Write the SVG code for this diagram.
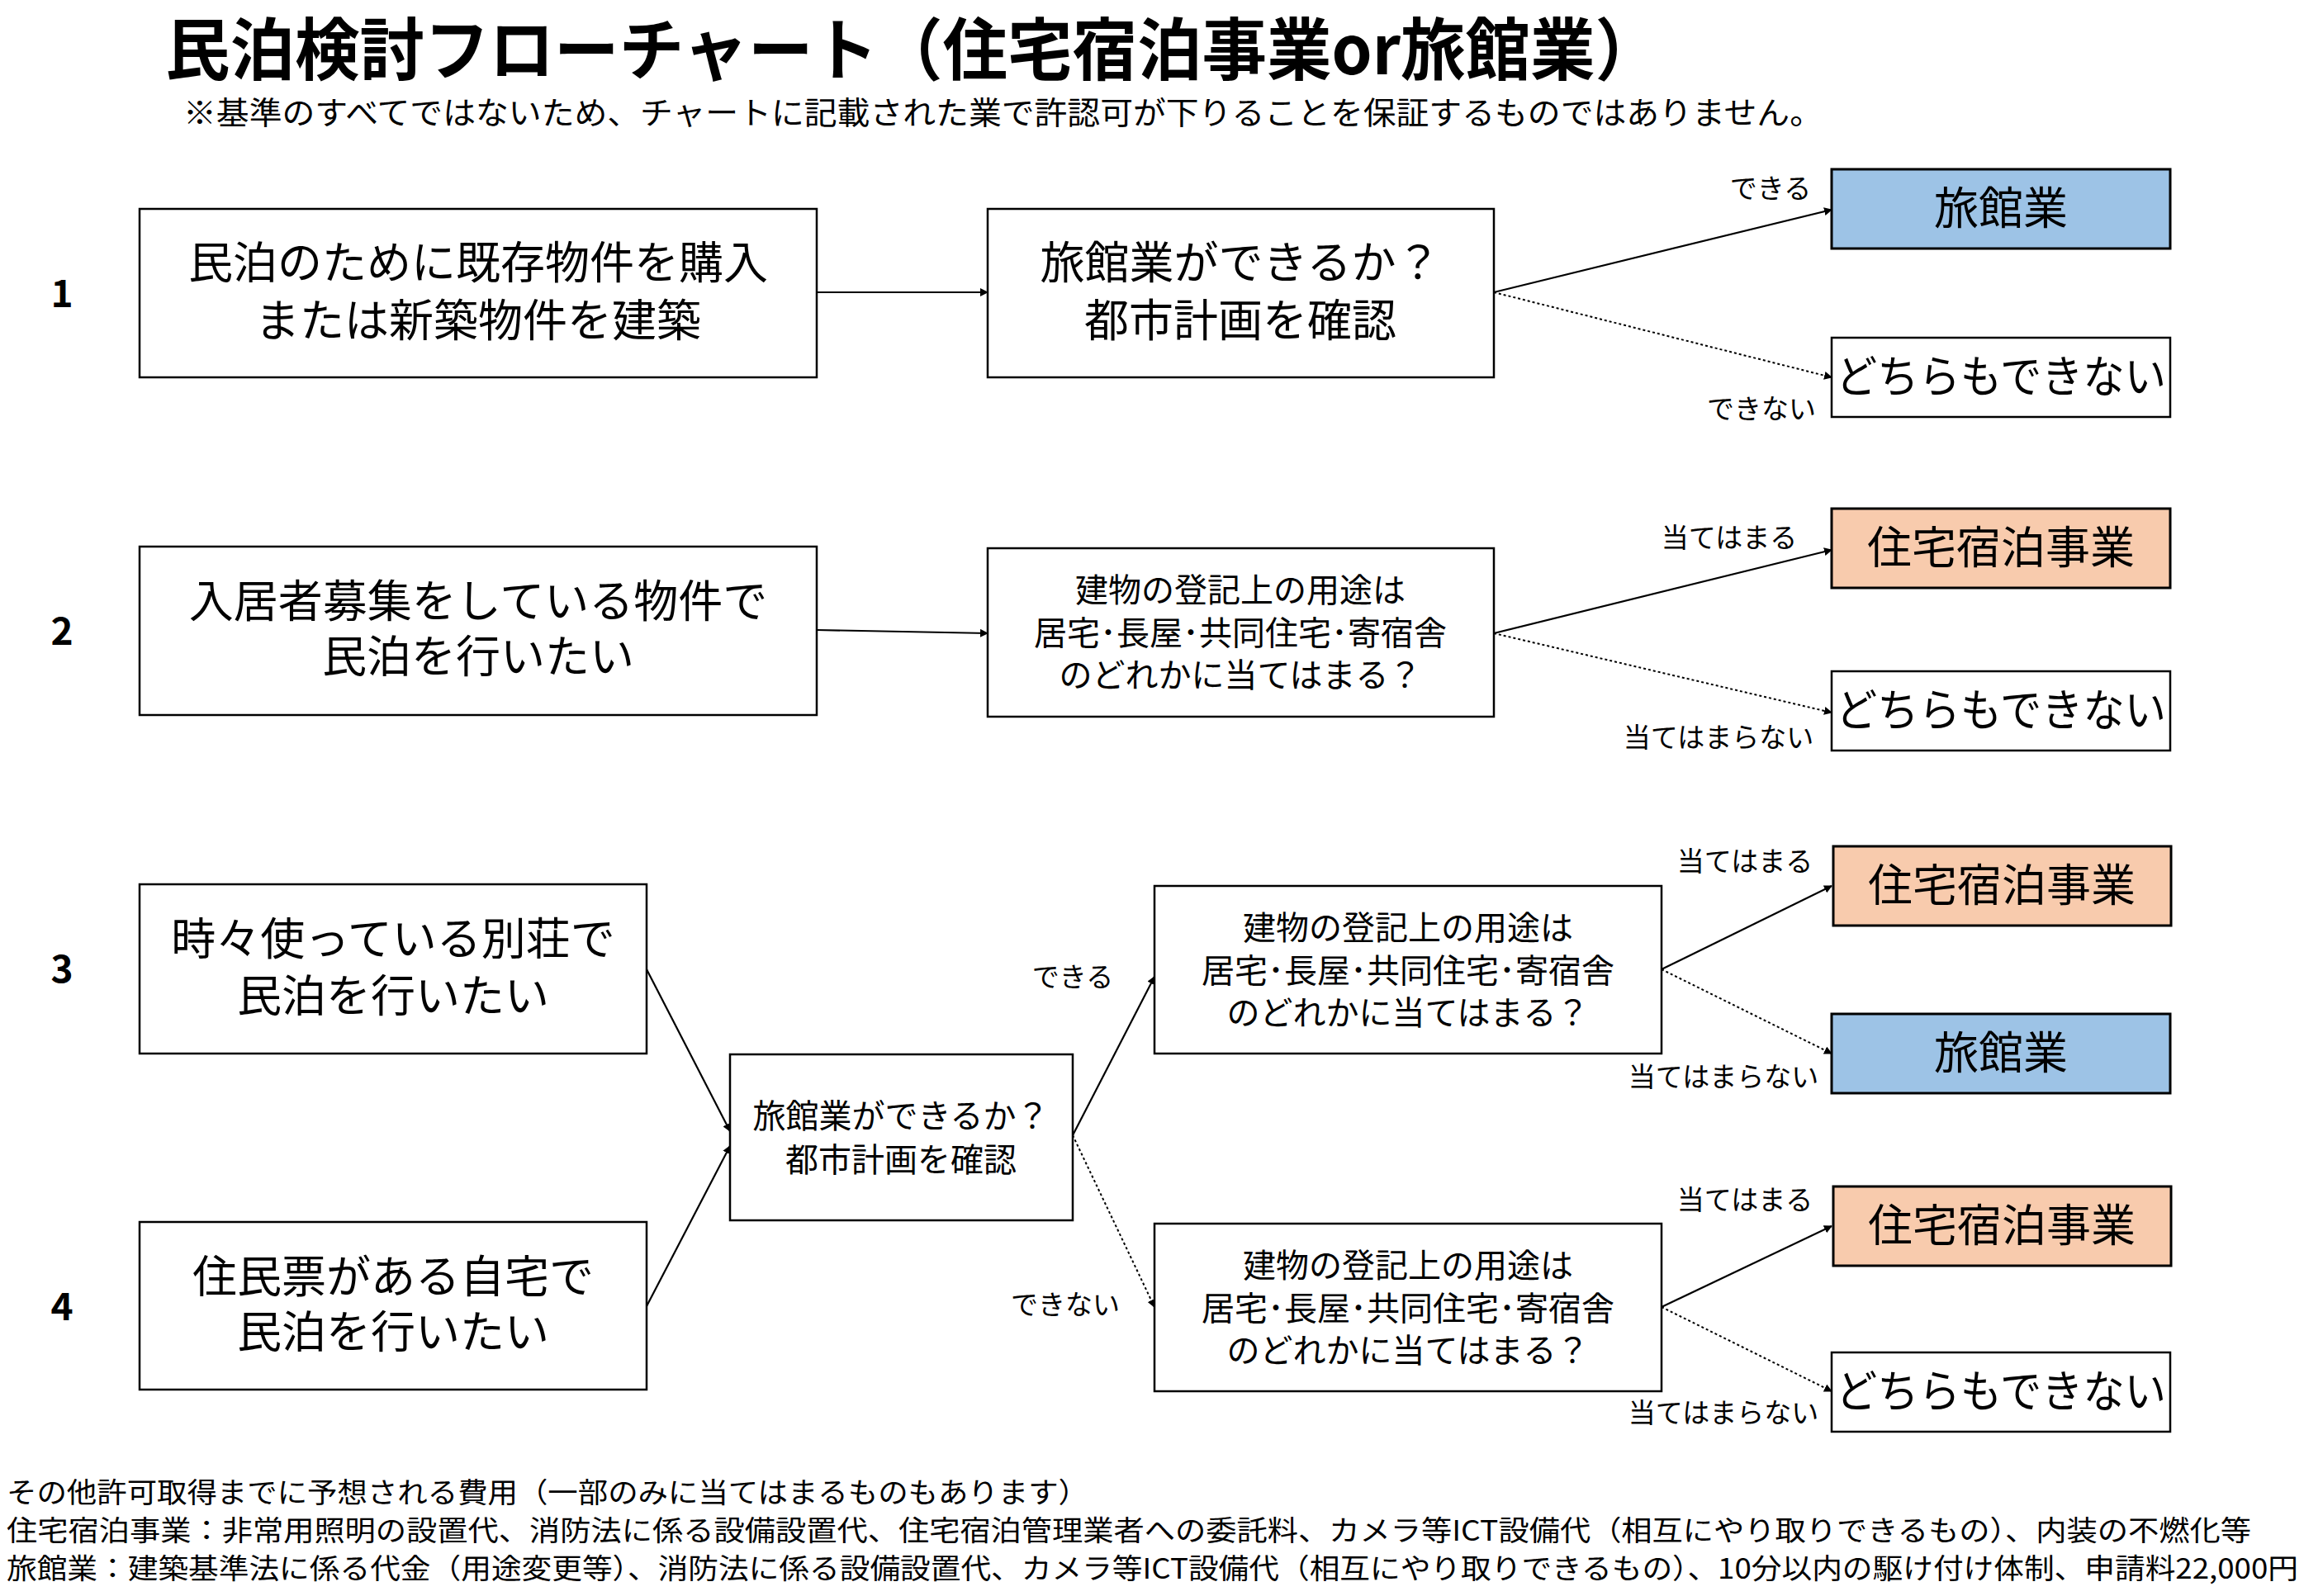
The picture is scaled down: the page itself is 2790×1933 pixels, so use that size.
<svg xmlns="http://www.w3.org/2000/svg" width="2790" height="1933" viewBox="0 0 2790 1933">
<style>
text{font-family:"Noto Sans CJK JP","Noto Sans",sans-serif;fill:#000}
.b{fill:#fff;stroke:#000;stroke-width:2.5}
.blue{fill:#9dc3e6;stroke:#000;stroke-width:3}
.org{fill:#f8cbad;stroke:#000;stroke-width:3}
.t1{font-size:54px;text-anchor:middle}
.t2{font-size:40px;text-anchor:middle}
.r{font-size:54px;text-anchor:middle}
.l{font-size:33px;text-anchor:middle}
.n{font-size:46px;text-anchor:middle;font-weight:bold}
.f{font-size:34px}
.s{stroke:#000;stroke-width:2.2;fill:none;marker-end:url(#a)}
.d{stroke:#000;stroke-width:2;stroke-dasharray:3 3;fill:none;marker-end:url(#a)}
</style>
<defs><marker id="a" markerWidth="10" markerHeight="10" refX="9" refY="5" orient="auto" markerUnits="userSpaceOnUse"><path d="M0,0 L10,5 L0,10 z" fill="#000"/></marker></defs>
<rect width="2790" height="1933" fill="#fff"/>
<text x="200" y="90" textLength="1810" lengthAdjust="spacingAndGlyphs" style="font-size:82px;font-weight:bold">民泊検討フローチャート（住宅宿泊事業or旅館業）</text>
<text x="222" y="150" textLength="1985" lengthAdjust="spacingAndGlyphs" style="font-size:38px">※基準のすべてではないため、チャートに記載された業で許認可が下りることを保証するものではありません。</text>
<text class="n" x="75" y="372">1</text><text class="n" x="75" y="781">2</text><text class="n" x="75" y="1190">3</text><text class="n" x="75" y="1599">4</text>
<g id="connectors">
<line class="s" x1="989" y1="354" x2="1196" y2="354"/>
<line class="s" x1="1809" y1="354" x2="2218" y2="254"/>
<line class="d" x1="1809" y1="354" x2="2218" y2="457"/>
<line class="s" x1="989" y1="763" x2="1196" y2="767"/>
<line class="s" x1="1809" y1="767" x2="2218" y2="666"/>
<line class="d" x1="1809" y1="767" x2="2218" y2="863"/>
<line class="s" x1="783" y1="1174" x2="884" y2="1370"/>
<line class="s" x1="783" y1="1582" x2="884" y2="1388"/>
<line class="s" x1="1299" y1="1375" x2="1398" y2="1183"/>
<line class="d" x1="1299" y1="1375" x2="1398" y2="1583"/>
<line class="s" x1="2012" y1="1174" x2="2218" y2="1073"/>
<line class="d" x1="2012" y1="1174" x2="2218" y2="1276"/>
<line class="s" x1="2012" y1="1583" x2="2218" y2="1485"/>
<line class="d" x1="2012" y1="1583" x2="2218" y2="1685"/>
<text class="l" x="2144" y="240">できる</text><text class="l" x="2133" y="507">できない</text>
<text class="l" x="2094" y="663">当てはまる</text><text class="l" x="2081" y="905">当てはまらない</text>
<text class="l" x="1299" y="1195">できる</text><text class="l" x="1290" y="1592">できない</text>
<text class="l" x="2113" y="1055">当てはまる</text><text class="l" x="2087" y="1316">当てはまらない</text>
<text class="l" x="2113" y="1465">当てはまる</text><text class="l" x="2087" y="1723">当てはまらない</text>
</g>
<g id="n1a"><rect class="b" x="169" y="253" width="820" height="204"/><text class="t1" x="579" y="338">民泊のために既存物件を購入</text><text class="t1" x="579" y="408">または新築物件を建築</text></g>
<g id="n1b"><rect class="b" x="1196" y="253" width="613" height="204"/><text class="t1" x="1502" y="338">旅館業ができるか？</text><text class="t1" x="1502" y="408">都市計画を確認</text></g>
<g id="r1a"><rect class="blue" x="2218" y="205" width="410" height="96"/><text class="r" x="2423" y="272">旅館業</text></g>
<g id="r1b"><rect class="b" x="2218" y="409" width="410" height="96"/><text class="r" x="2423" y="476" textLength="400" lengthAdjust="spacingAndGlyphs">どちらもできない</text></g>
<g id="n2a"><rect class="b" x="169" y="662" width="820" height="204"/><text class="t1" x="579" y="748">入居者募集をしている物件で</text><text class="t1" x="579" y="815">民泊を行いたい</text></g>
<g id="n2b"><rect class="b" x="1196" y="664" width="613" height="204"/><text class="t2" x="1502" y="729">建物の登記上の用途は</text><text class="t2" x="1502" y="781">居宅･長屋･共同住宅･寄宿舎</text><text class="t2" x="1502" y="832">のどれかに当てはまる？</text></g>
<g id="r2a"><rect class="org" x="2218" y="616" width="410" height="96"/><text class="r" x="2423" y="683">住宅宿泊事業</text></g>
<g id="r2b"><rect class="b" x="2218" y="813" width="410" height="96"/><text class="r" x="2423" y="880" textLength="400" lengthAdjust="spacingAndGlyphs">どちらもできない</text></g>
<g id="n3"><rect class="b" x="169" y="1071" width="614" height="205"/><text class="t1" x="476" y="1157">時々使っている別荘で</text><text class="t1" x="476" y="1226">民泊を行いたい</text></g>
<g id="n4"><rect class="b" x="169" y="1480" width="614" height="203"/><text class="t1" x="476" y="1566">住民票がある自宅で</text><text class="t1" x="476" y="1633">民泊を行いたい</text></g>
<g id="nm"><rect class="b" x="884" y="1277" width="415" height="201"/><text class="t2" x="1091" y="1366">旅館業ができるか？</text><text class="t2" x="1091" y="1419">都市計画を確認</text></g>
<g id="nu"><rect class="b" x="1398" y="1073" width="614" height="203"/><text class="t2" x="1705" y="1138">建物の登記上の用途は</text><text class="t2" x="1705" y="1190">居宅･長屋･共同住宅･寄宿舎</text><text class="t2" x="1705" y="1241">のどれかに当てはまる？</text></g>
<g id="nl"><rect class="b" x="1398" y="1482" width="614" height="203"/><text class="t2" x="1705" y="1547">建物の登記上の用途は</text><text class="t2" x="1705" y="1599">居宅･長屋･共同住宅･寄宿舎</text><text class="t2" x="1705" y="1650">のどれかに当てはまる？</text></g>
<g id="r3a"><rect class="org" x="2220" y="1025" width="409" height="96"/><text class="r" x="2424" y="1092">住宅宿泊事業</text></g>
<g id="r3b"><rect class="blue" x="2218" y="1228" width="410" height="96"/><text class="r" x="2423" y="1295">旅館業</text></g>
<g id="r4a"><rect class="org" x="2220" y="1437" width="409" height="96"/><text class="r" x="2424" y="1504">住宅宿泊事業</text></g>
<g id="r4b"><rect class="b" x="2218" y="1638" width="410" height="96"/><text class="r" x="2423" y="1705" textLength="400" lengthAdjust="spacingAndGlyphs">どちらもできない</text></g>
<text class="f" x="8" y="1820" textLength="1310" lengthAdjust="spacingAndGlyphs">その他許可取得までに予想される費用（一部のみに当てはまるものもあります）</text>
<text class="f" x="8" y="1866" textLength="2718" lengthAdjust="spacingAndGlyphs">住宅宿泊事業：非常用照明の設置代、消防法に係る設備設置代、住宅宿泊管理業者への委託料、カメラ等ICT設備代（相互にやり取りできるもの）、内装の不燃化等</text>
<text class="f" x="8" y="1912" textLength="2775" lengthAdjust="spacingAndGlyphs">旅館業：建築基準法に係る代金（用途変更等）、消防法に係る設備設置代、カメラ等ICT設備代（相互にやり取りできるもの）、10分以内の駆け付け体制、申請料22,000円</text>
</svg>
